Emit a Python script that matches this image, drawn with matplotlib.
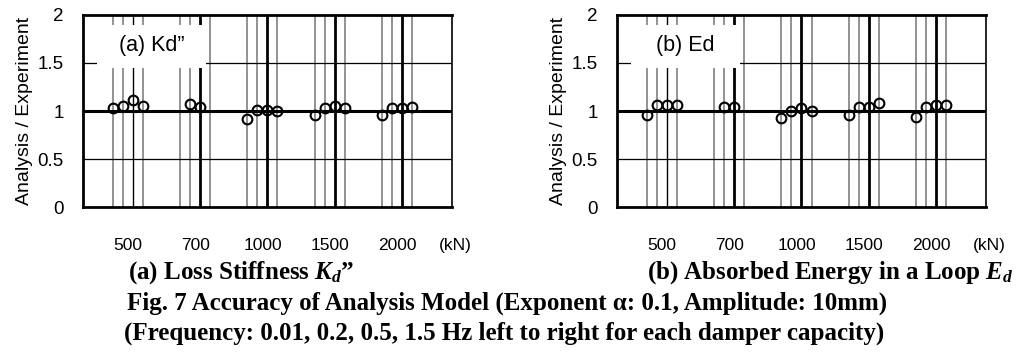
import numpy as np
import matplotlib
matplotlib.use('Agg')
import matplotlib.pyplot as plt
from matplotlib.patches import Rectangle

plt.rcParams['font.family'] = ['Liberation Sans', 'DejaVu Sans']
plt.rcParams['mathtext.fontset'] = 'custom'
plt.rcParams['mathtext.it'] = 'Liberation Serif:italic:bold'
plt.rcParams['mathtext.rm'] = 'Liberation Serif:bold'

# damper capacity groups and excitation frequencies
capacities = ['500', '700', '1000', '1500', '2000']
frequencies = [0.01, 0.2, 0.5, 1.5]

# Analysis / Experiment ratios, one row per capacity (None = not tested)
kd_ratio = [
    [1.03, 1.05, 1.115, 1.05],
    [None, 1.07, 1.045, None],
    [0.92, 1.01, 1.01, 1.00],
    [0.96, 1.03, 1.05, 1.03],
    [0.96, 1.03, 1.03, 1.045],
]
ed_ratio = [
    [0.96, 1.06, 1.06, 1.06],
    [None, 1.045, 1.045, None],
    [0.925, 1.00, 1.03, 1.00],
    [0.96, 1.045, 1.045, 1.085],
    [0.94, 1.045, 1.06, 1.06],
]

panel_tags = ['(a) Kd\u201d', '(b) Ed']
captions = ['(a) Loss Stiffness $K_d$\u201d', '(b) Absorbed Energy in a Loop $E_d$']

step = 0.149  # spacing between frequencies inside a group


def draw_panel(ax, ratios, tag):
    n_freq = len(frequencies)
    # vertical lines at every test position
    for gi in range(len(capacities)):
        for fi in range(n_freq):
            x = gi + (fi - (n_freq - 1) / 2) * step
            if fi == 2:
                ax.axvline(x, color='k', lw=1.0 if gi == 0 else 2.0, zorder=1)
            else:
                ax.axvline(x, color='0.5', lw=1.2, zorder=1)

    for yv in [0.5, 1.5]:
        ax.axhline(yv, color='k', lw=0.9, zorder=1)
    ax.axhline(1.0, color='k', lw=2.2, zorder=2)

    xs, ys = [], []
    for gi, row in enumerate(ratios):
        for fi, v in enumerate(row):
            if v is None:
                continue
            xs.append(gi + (fi - (n_freq - 1) / 2) * step)
            ys.append(v)
    ax.plot(xs, ys, 'o', ms=7, mfc='none', mec='k', mew=1.5, zorder=4)

    # label box covering the grid
    ax.add_patch(Rectangle((0.038, 0.725), 0.295, 0.225, transform=ax.transAxes,
                           fc='white', ec='none', zorder=3))
    ax.text(0.185, 0.84, tag, transform=ax.transAxes, ha='center', va='center',
            fontsize=15.5, zorder=5)

    ax.set_xlim(-0.67, 4.82)
    ax.set_ylim(0, 2)
    ax.set_yticks([0, 0.5, 1, 1.5, 2])
    ax.set_yticklabels(['0', '0.5', '1', '1.5', '2'])
    ax.set_xticks(range(len(capacities)))
    ax.set_xticklabels(capacities)
    ax.tick_params(axis='y', length=0, pad=14, labelsize=13.5)
    ax.tick_params(axis='x', length=0, pad=22, labelsize=12.5)
    ax.text(1.008, -0.2, '(kN)', transform=ax.transAxes, ha='center', va='center',
            fontsize=12.5)
    ax.set_ylabel('Analysis / Experiment', fontsize=14, labelpad=3)
    for side in ['left', 'top', 'bottom']:
        ax.spines[side].set_linewidth(2.0)
    ax.spines['right'].set_linewidth(1.2)


fig = plt.figure(figsize=(10.16, 3.64), dpi=100)
ax1 = fig.add_axes([0.0817, 0.4313, 0.3632, 0.5275])
ax2 = fig.add_axes([0.6073, 0.4313, 0.3632, 0.5275])
draw_panel(ax1, kd_ratio, panel_tags[0])
draw_panel(ax2, ed_ratio, panel_tags[1])

cap_font = dict(family='Liberation Serif', fontweight='bold', fontsize=18,
                ha='center', va='center')
fig.text(241 / 1016, 1 - 273 / 364, captions[0], **cap_font)
fig.text(830 / 1016, 1 - 273 / 364, captions[1], **cap_font)
fig.text(507 / 1016, 1 - 303 / 364,
         'Fig. 7 Accuracy of Analysis Model (Exponent \u03b1: 0.1, Amplitude: 10mm)', **cap_font)
fig.text(504 / 1016, 1 - 333 / 364,
         '(Frequency: 0.01, 0.2, 0.5, 1.5 Hz left to right for each damper capacity)', **cap_font)

fig.savefig('out.png', dpi=100)
plt.close(fig)
